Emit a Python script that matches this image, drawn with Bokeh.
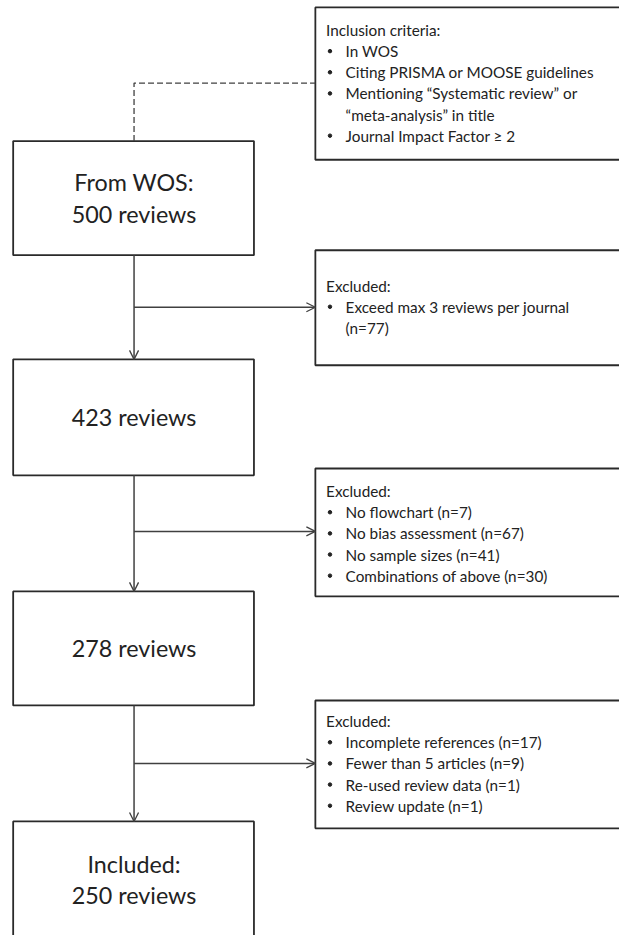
from bokeh.plotting import figure
from bokeh.models import Range1d, Arrow, OpenHead
from bokeh.core.properties import value
from bokeh.embed import file_html
from bokeh.resources import INLINE

# ---- data ----
stage_counts = [500, 423, 278, 250]
stage_prefix = ["From WOS:", "", "", "Included:"]
inclusion_header = "Inclusion criteria:"
inclusion_items = ["In WOS", "Citing PRISMA or MOOSE guidelines",
                   "Mentioning \u201cSystematic review\u201d or\n\u201cmeta-analysis\u201d in title",
                   "Journal Impact Factor \u2265 2"]
excl1_labels = ["Exceed max 3 reviews per journal\n"]
excl1_counts = [77]
excl2_labels = ["No flowchart", "No bias assessment", "No sample sizes", "Combinations of above"]
excl2_counts = [7, 67, 41, 30]
excl3_labels = ["Incomplete references", "Fewer than 5 articles", "Re-used review data", "Review update"]
excl3_counts = [17, 9, 1, 1]

# ---- layout (reference pixel coordinates, 635 x 951 canvas) ----
W, H = 619, 935
main_left, main_right, main_cx = 13, 260, 137
main_boxes = [(143, 259), (365, 483), (601, 717), (835, 975)]
side_left, side_right = 323, 680
side_boxes = [(7, 162), (254, 371), (476, 606), (712, 842)]
branch_y = [312, 540, 776]
LH = 21.5
BIG_LH = 32
FONT = value("Lato")
BIG = "23.3px"
SMALL = "15.3px"
LINE = "#404040"
TXT = "#222222"

p = figure(width=W, height=H, output_backend="svg", toolbar_location=None,
           x_range=Range1d(0, 635), y_range=Range1d(951, 0),
           x_axis_location=None, y_axis_location=None, min_border=0)
p.grid.visible = False
p.outline_line_color = None
p.background_fill_color = "white"

# boxes
p.quad(left=[main_left] * 4, right=[main_right] * 4,
       top=[b[0] for b in main_boxes], bottom=[b[1] for b in main_boxes],
       fill_color=None, line_color="#2a2a2a", line_width=1.8)
p.quad(left=[side_left] * 4, right=[side_right] * 4,
       top=[b[0] for b in side_boxes], bottom=[b[1] for b in side_boxes],
       fill_color=None, line_color="#2a2a2a", line_width=1.8)

# dashed connector to inclusion criteria
p.line(x=[main_cx, main_cx, side_left], y=[main_boxes[0][0], 84, 84],
       line_color=LINE, line_width=1.3, line_dash="6 3")

# arrows
for i in range(3):
    p.add_layout(Arrow(end=OpenHead(size=9, line_color=LINE, line_width=1.3),
                       x_start=main_cx, y_start=main_boxes[i][1],
                       x_end=main_cx, y_end=main_boxes[i + 1][0],
                       line_color=LINE, line_width=1.5))
    p.add_layout(Arrow(end=OpenHead(size=9, line_color=LINE, line_width=1.3),
                       x_start=main_cx, y_start=branch_y[i],
                       x_end=side_left, y_end=branch_y[i],
                       line_color=LINE, line_width=1.5))

# main box texts
mx, my, mt = [], [], []
for i, c in enumerate(stage_counts):
    top, bot = main_boxes[i]
    cy = 894 if i == 3 else (top + bot) / 2
    lines = ([stage_prefix[i]] if stage_prefix[i] else []) + [f"{c} reviews"]
    n = len(lines)
    for k, t in enumerate(lines):
        mx.append(main_cx)
        my.append(cy + (k - (n - 1) / 2) * BIG_LH)
        mt.append(t)
p.text(x=mx, y=my, text=mt, text_font=FONT, text_font_size=BIG,
       text_align="center", text_baseline="middle", text_color=TXT)

# side box texts
hx, hy, ht = [], [], []
bx, by = [], []
ix, iy, it = [], [], []


def side(header_y, header, items):
    hx.append(334); hy.append(header_y); ht.append(header)
    y = header_y + LH
    for item in items:
        parts = item.split("\n")
        bx.append(338); by.append(y)
        for part in parts:
            if part:
                ix.append(354); iy.append(y); it.append(part)
            y += LH


side(30, inclusion_header, inclusion_items)
side(290, "Excluded:", [excl1_labels[0] + f"(n={excl1_counts[0]})"])
side(499, "Excluded:", [f"{l} (n={c})" for l, c in zip(excl2_labels, excl2_counts)])
side(733, "Excluded:", [f"{l} (n={c})" for l, c in zip(excl3_labels, excl3_counts)])

p.text(x=hx, y=hy, text=ht, text_font=FONT, text_font_size=SMALL,
       text_align="left", text_baseline="middle", text_color=TXT)
p.scatter(x=bx, y=by, size=3.5, color="#222222")
p.text(x=ix, y=iy, text=it, text_font=FONT, text_font_size=SMALL,
       text_align="left", text_baseline="middle", text_color=TXT)

open("out.html", "w").write(file_html(p, INLINE))
